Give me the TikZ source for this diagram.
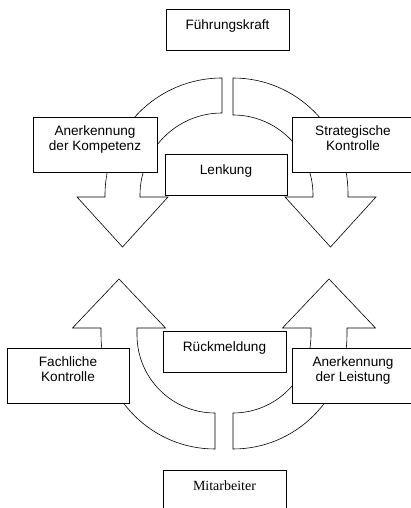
\documentclass[tikz,border=0pt]{standalone}
\usepackage{fontspec}
\setmainfont{Liberation Sans}
\newfontfamily\serifmit{Liberation Serif}
\tikzset{
  labelbox/.style={draw, fill=white, line width=0.6pt, align=center,
    font=\fontsize{13.6}{15}\selectfont, inner sep=0pt},
  onerow/.style={labelbox, minimum width=123pt, minimum height=41pt,
    text height=10pt, text depth=10pt},
  tworow/.style={labelbox, minimum width=123pt, minimum height=55pt,
    execute at end node={\rule[-12pt]{0pt}{12pt}}},
  bentarrow/.style={draw, fill=white, line width=0.6pt, line join=miter}
}
\begin{document}
\begin{tikzpicture}[x=1pt,y=1pt]
    \useasboundingbox (0,0) rectangle (411,508);
    \clip (0,0) rectangle (411,508);

    % Upper arrows (pointing down)
    \draw[bentarrow] (222,430) arc[start angle=90, end angle=180, radius=117]
        -- (105,311) -- (77,311) -- (122.5,261) -- (168,311) -- (140,311) -- (140,313)
        arc[start angle=180, end angle=90, radius=82] -- cycle;
    \draw[bentarrow] (233,430) arc[start angle=90, end angle=0, radius=115]
        -- (348,311) -- (376,311) -- (330.5,261) -- (285,311) -- (313,311) -- (313,313)
        arc[start angle=0, end angle=90, radius=80] -- cycle;

    % Lower arrows (pointing up)
    \draw[bentarrow] (215,59) arc[start angle=270, end angle=180, radius=114]
        -- (101,180) -- (72.5,180) -- (119,229) -- (165.5,180) -- (137,180) -- (137,173)
        arc[start angle=180, end angle=270, radius=78] -- cycle;
    \draw[bentarrow] (233,59) arc[start angle=270, end angle=360, radius=114]
        -- (347,180) -- (375.5,180) -- (329,229) -- (282.5,180) -- (311,180) -- (311,173)
        arc[start angle=0, end angle=-90, radius=78] -- cycle;

    % Boxes
    \node[onerow] (fuehrung) at (227.5,478.5) {Führungskraft};
    \node[tworow, minimum width=124pt] (kompetenz) at (95,363.5) {Anerkennung\\der Kompetenz};
    \node[tworow, minimum width=122pt] (strategie) at (353,363.5) {Strategische\\Kontrolle};
    \node[onerow, minimum width=122pt] (lenkung) at (226,333.5) {Lenkung};
    \node[onerow] (rueckmeldung) at (224.5,156.5) {Rückmeldung};
    \node[tworow, minimum width=122pt] (fachlich) at (68,132.5) {Fachliche\\Kontrolle};
    \node[tworow, minimum width=122pt] (leistung) at (353,132.5) {Anerkennung\\der Leistung};
    \node[onerow, font=\serifmit\fontsize{14}{16}\selectfont] (mitarbeiter) at (224.5,17.5) {Mitarbeiter};
\end{tikzpicture}
\end{document}
